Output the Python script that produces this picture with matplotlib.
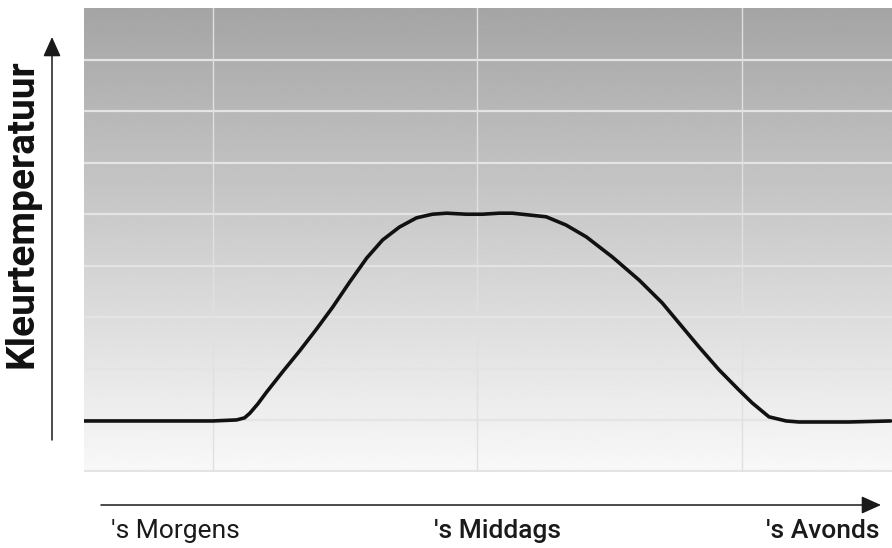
import numpy as np
import matplotlib
matplotlib.use("Agg")
import matplotlib.pyplot as plt

# Data (time of day in hours, colour temperature in relative units)
hours = [3.08, 4.57, 5.71, 6.0, 6.54, 6.72, 6.84, 7.02, 7.22, 7.58, 7.97, 8.35, 8.72,
         9.10, 9.49, 9.85, 10.23, 10.62, 10.98, 11.30, 11.75, 12.11, 12.50, 12.79,
         13.56, 14.01, 14.47, 15.06, 15.67, 16.19, 16.57, 17.03, 17.48, 17.93, 18.23,
         18.61, 19.00, 19.29, 20.42, 21.37]
temp = [0.99, 0.99, 0.99, 0.99, 1.01, 1.05, 1.14, 1.32, 1.55, 1.94, 2.35, 2.77, 3.20,
        3.68, 4.15, 4.50, 4.75, 4.93, 5.00, 5.02, 5.00, 5.00, 5.02, 5.02,
        4.95, 4.79, 4.56, 4.17, 3.72, 3.28, 2.89, 2.42, 1.98, 1.59, 1.34,
        1.07, 0.99, 0.97, 0.97, 0.99]
x_grid = [6, 12, 18]
y_grid = [1, 2, 3, 4, 5, 6, 7, 8]
x_labels = ["'s Morgens", "'s Middags", "'s Avonds"]
y_title = "Kleurtemperatuur"

W, H = 892, 548
fig = plt.figure(figsize=(W / 100, H / 100), dpi=100)
fig.patch.set_facecolor("white")
ax = fig.add_axes([84 / W, (H - 472) / H, (892 - 84) / W, (472 - 8) / H])

xmin, xmax = 3.08, 21.40
ymin, ymax = 0, 9
ax.set_xlim(xmin, xmax)
ax.set_ylim(ymin, ymax)

# gradient background (light at bottom, dark at top)
grad = np.linspace(0.975, 0.645, 256).reshape(-1, 1)
ax.imshow(grad, cmap="gray", vmin=0, vmax=1, extent=[xmin, xmax, ymin, ymax],
          aspect="auto", origin="lower", zorder=0, interpolation="bilinear")

for yv in y_grid:
    ax.axhline(yv, color="#e4e4e4", lw=1.6, zorder=1)
ax.axhline(0.02, color="#e4e4e4", lw=1.6, zorder=1)
for xv in x_grid:
    ax.axvline(xv, color="#e0e0e0", lw=1.0, zorder=1)

ax.plot(hours, temp, color="#111111", lw=2.6, solid_capstyle="round",
        solid_joinstyle="round", zorder=3)

ax.set_xticks([])
ax.set_yticks([])
for s in ax.spines.values():
    s.set_visible(False)

# axis arrows
arrow_style = "-|>,head_length=1.0,head_width=0.45"
fig.add_artist(matplotlib.patches.FancyArrowPatch(
    (52, H - 440), (52, H - 37), transform=None, arrowstyle=arrow_style,
    mutation_scale=12, color="#1a1a1a", lw=1.1, shrinkA=0, shrinkB=0))
fig.add_artist(matplotlib.patches.FancyArrowPatch(
    (101, H - 505), (881, H - 505), transform=None, arrowstyle=arrow_style,
    mutation_scale=12, color="#1a1a1a", lw=1.1, shrinkA=0, shrinkB=0))

fig.text(22 / W, (H - 214) / H, y_title, rotation=90, ha="center", va="center",
         fontsize=28, fontweight="bold", family=["Roboto", "DejaVu Sans"],
         color="#111111")

label_pos = [175, 498, 823]
weights = ["normal", "medium", "medium"]
for lbl, xp, wt in zip(x_labels, label_pos, weights):
    fig.text(xp / W, (H - 531) / H, lbl, ha="center", va="center", fontsize=19,
             fontweight=wt, family=["Roboto", "DejaVu Sans"], color="#1a1a1a")

fig.savefig("out.png", dpi=100)
